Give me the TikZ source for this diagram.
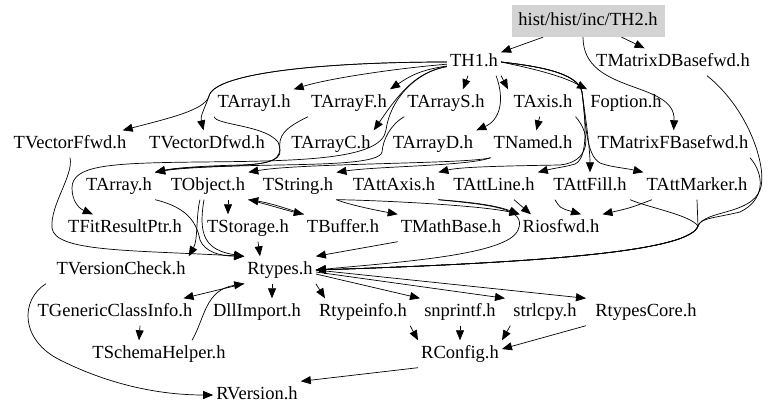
\documentclass[tikz,border=0pt]{standalone}
\usepackage{fontspec}
\setmainfont{Liberation Serif}
\usetikzlibrary{arrows.meta}
\definecolor{rootgray}{RGB}{211,211,211}
\begin{document}
\begin{tikzpicture}[x=1pt,y=-1pt,
  hnode/.style={inner xsep=3pt, inner ysep=5pt, text height=13pt, text depth=4pt,
    font=\fontsize{18.5}{20}\selectfont},
  rootnode/.style={hnode, fill=rootgray, minimum width=153pt, minimum height=32pt},
  e/.style={-{Triangle[length=10pt,width=8pt]}, line width=0.7pt, black}]
\useasboundingbox (0,0) rectangle (768,419);
% nodes
\node[rootnode] (th2) at (588,21) {hist/hist/inc/TH2.h};
\node[hnode] (th1) at (474,62) {TH1.h};
\node[hnode] (tmd) at (673,62) {TMatrixDBasefwd.h};
\node[hnode] (tai) at (254,103) {TArrayI.h};
\node[hnode] (taf) at (349,103) {TArrayF.h};
\node[hnode] (tas) at (446,103) {TArrayS.h};
\node[hnode] (tax) at (543,103) {TAxis.h};
\node[hnode] (fop) at (626,103) {Foption.h};
\node[hnode] (tvf) at (70,144) {TVectorFfwd.h};
\node[hnode] (tvd) at (207,144) {TVectorDfwd.h};
\node[hnode] (tac) at (331,144) {TArrayC.h};
\node[hnode] (tad) at (433,144) {TArrayD.h};
\node[hnode] (tna) at (533,144) {TNamed.h};
\node[hnode] (tmf) at (673,144) {TMatrixFBasefwd.h};
\node[hnode] (tar) at (119,186) {TArray.h};
\node[hnode] (tob) at (208,186) {TObject.h};
\node[hnode] (tst) at (298,186) {TString.h};
\node[hnode] (taa) at (394,186) {TAttAxis.h};
\node[hnode] (tal) at (494,186) {TAttLine.h};
\node[hnode] (taff) at (590,186) {TAttFill.h};
\node[hnode] (tam) at (697,186) {TAttMarker.h};
\node[hnode] (tfr) at (125,228) {TFitResultPtr.h};
\node[hnode] (tsto) at (248,228) {TStorage.h};
\node[hnode] (tbu) at (343,228) {TBuffer.h};
\node[hnode] (tmb) at (451,228) {TMathBase.h};
\node[hnode] (rio) at (561,228) {Riosfwd.h};
\node[hnode] (tvc) at (121,270) {TVersionCheck.h};
\node[hnode] (rty) at (280,270) {Rtypes.h};
\node[hnode] (tgc) at (115,312) {TGenericClassInfo.h};
\node[hnode] (dll) at (257,312) {DllImport.h};
\node[hnode] (rti) at (363,312) {Rtypeinfo.h};
\node[hnode] (snp) at (460,312) {snprintf.h};
\node[hnode] (str) at (545,312) {strlcpy.h};
\node[hnode] (rtc) at (646,312) {RtypesCore.h};
\node[hnode] (tsh) at (159,354) {TSchemaHelper.h};
\node[hnode] (rco) at (460,354) {RConfig.h};
\node[hnode] (rve) at (257,395) {RVersion.h};
\coordinate (jn) at (698,226);
% TH2
\draw[e] (th2) -- (th1);
\draw[e] (th2) -- (tmd);
\draw[e] ([xshift=-5pt]th2.south) .. controls (583,95) and (676,80) .. (tmf);
% TH1
\draw[e] (th1) .. controls (400,68) and (330,78) .. (tai.north east);
\draw[e] (th1) .. controls (420,70) and (410,76) .. (taf.north east);
\draw[e] (th1) .. controls (330,62) and (215,72) .. (209,96) .. controls (205,110) and (170,118) .. (tvf);
\draw[e] (th1) .. controls (330,62) and (215,72) .. (209,96) .. controls (205,108) and (200,116) .. (tvd);
\draw[e] (th1) .. controls (415,72) and (398,95) .. (tac.north east);
\draw[e] ([xshift=-6pt]th1.south) -- ([xshift=17pt]tas.north);
\draw[e] (th1.south east) -- ([xshift=-35pt]tax.north);
\draw[e] ([xshift=-5pt]th1.south east) .. controls (505,100) and (500,120) .. (tad.north east);
\draw[e] (th1.east) .. controls (530,68) and (560,75) .. (fop.north west);
\draw[e] (th1.east) .. controls (535,66) and (578,72) .. (582,92) .. controls (586,120) and (590,150) .. (taff);
\draw[e] (th1.east) .. controls (535,66) and (578,72) .. (582,92) .. controls (586,125) and (588,158) .. (575,164) .. controls (565,167) and (555,168) .. (tal.north east);
\draw[e] (th1.east) .. controls (535,66) and (578,72) .. (582,92) .. controls (586,125) and (586,155) .. (600,163) .. controls (610,167) and (625,168) .. (tam.north west);
\draw[e] (th1) .. controls (415,72) and (390,100) .. (386,130) .. controls (382,160) and (300,161) .. (200,162) .. controls (110,163) and (72,165) .. (72,188) .. controls (72,200) and (78,208) .. (tfr);
% TAxis
\draw[e] (tax) -- (tna);
\draw[e] (tax.south east) .. controls (592,135) and (590,162) .. (560,165) .. controls (500,166) and (460,167) .. (taa.north east);
% arrays -> TArray
\draw[e] (tai.south west) .. controls (215,125) and (265,125) .. (278,142) .. controls (285,160) and (270,164) .. (240,165) .. controls (200,166) and (175,168) .. (tar.north east);
\draw[e] (taf.south west) .. controls (285,128) and (278,135) .. (280,150) .. controls (282,162) and (260,165) .. (230,166) .. controls (200,167) and (175,168) .. (tar.north east);
\draw[e] (tas.south west) .. controls (390,125) and (383,140) .. (382,152) .. controls (380,163) and (330,164) .. (280,165) .. controls (220,166) and (180,168) .. (tar.north east);
% TNamed
\draw[e] (tna.south west) .. controls (470,164) and (300,163) .. (tob.north east);
\draw[e] (tna.south west) .. controls (470,166) and (380,166) .. (tst.north east);
% TObject
\draw[e] ([xshift=20pt]tob.south) -- ([xshift=-20pt]tsto.north);
\draw[e] ([xshift=-8pt]tob.south) .. controls (196,215) and (198,240) .. (tvc.north east);
\draw[e] ([xshift=-4pt]tob.south) .. controls (198,235) and (205,250) .. (rty.north west);
\draw[e] (tob.south east) .. controls (270,205) and (285,210) .. (tbu.north west);
\draw[e] (tbu.north west) .. controls (285,208) and (270,203) .. (tob.south east);
% TString and attributes
\draw[e] (tst.south east) .. controls (350,205) and (375,210) .. (tmb.north west);
\draw[e] (tst.south east) .. controls (370,200) and (480,205) .. (rio.north west);
\draw[e] (taa.south east) .. controls (470,202) and (495,205) .. (rio.north west);
\draw[e] ([xshift=20pt]tal.south) -- ([xshift=-30pt]rio.north);
\draw[e] ([xshift=-35pt]taff.south) .. controls (560,208) .. ([xshift=20pt]rio.north);
\draw[e] ([xshift=-45pt]tam.south) .. controls (630,208) .. (rio.north east);
\draw[e] (tam.south) .. controls (698,212) .. (jn) .. controls (690,250) and (560,262) .. (rty.east);
\draw[e] ([xshift=40pt]taff.south) .. controls (650,208) and (690,215) .. (jn) .. controls (690,250) and (560,262) .. (rty.east);
\draw[e] ([xshift=34pt]tmd.south) .. controls (750,110) and (768,170) .. (760,190) .. controls (750,215) and (705,210) .. (jn) .. controls (690,250) and (560,262) .. (rty.east);
\draw[e] ([xshift=77pt]tmf.south) .. controls (765,175) and (765,200) .. (740,212) .. controls (715,218) and (700,218) .. (jn) .. controls (690,250) and (560,262) .. (rty.east);
\draw[e] (taa.south east) .. controls (490,205) and (528,208) .. (518,230) .. controls (508,255) and (400,262) .. (rty.east);
\draw[e] (tmb.south west) -- (rty.north east);
\draw[e] ([xshift=10pt]tsto.south) -- ([xshift=-20pt]rty.north);
\draw[e] (tar.south east) .. controls (190,208) and (197,225) .. (200,240) .. controls (205,252) and (220,256) .. (rty.north west);
\draw[e] (tvf.south) .. controls (74,175) and (50,205) .. (52,228) .. controls (55,252) and (130,250) .. (rty.north west);
% Rtypes
\draw[e] (rty.south west) -- ([xshift=-12pt]tgc.north east);
\draw[e] ([xshift=25pt]tgc.south) -- ([xshift=-20pt]tsh.north);
\draw[e] ([xshift=33pt]tsh.north) .. controls (205,318) and (205,290) .. (rty.south west);
\draw[e] ([xshift=-8pt]rty.south) -- ([xshift=15pt]dll.north);
\draw[e] (rty.south east) -- ([xshift=-38pt]rti.north);
\draw[e] ([yshift=-4pt]rty.east) -- ([xshift=-40pt]snp.north);
\draw[e] ([yshift=-2pt]rty.east) -- ([xshift=-40pt]str.north);
\draw[e] (rty.east) -- ([xshift=-60pt]rtc.north);
% RConfig
\draw[e] (rti.south east) -- (rco.north west);
\draw[e] (snp) -- (rco);
\draw[e] (str.south west) -- (rco.north east);
\draw[e] ([xshift=-60pt]rtc.south) -- ([yshift=5pt]rco.east);
\draw[e] (rco.south west) -- (rve.north east);
\draw[e] ([xshift=-75pt]tvc.south) .. controls (20,300) and (20,340) .. (60,360) .. controls (110,385) and (160,395) .. (rve.west);
\end{tikzpicture}
\end{document}
